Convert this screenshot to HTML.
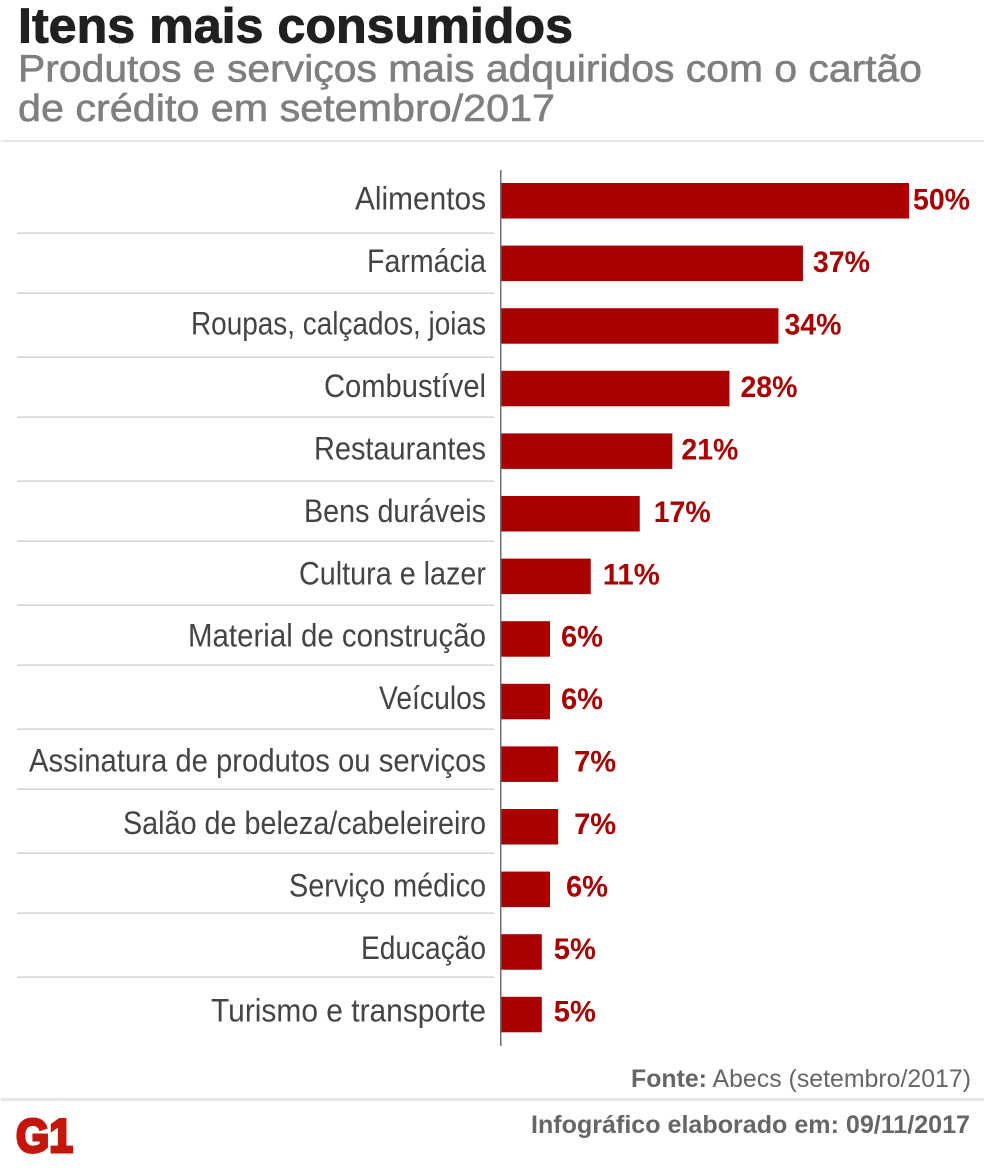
<!DOCTYPE html>
<html lang="pt-BR">
<head>
<meta charset="utf-8">
<title>Itens mais consumidos</title>
<style>
  html, body { margin: 0; padding: 0; background: #fff; }
  body { width: 984px; height: 1173px; overflow: hidden; }
  svg { display: block; font-family: "Liberation Sans", sans-serif; }
</style>
</head>
<body>
<svg id="chart" xmlns="http://www.w3.org/2000/svg" width="984" height="1173" viewBox="0 0 984 1173">
  <rect x="0" y="0" width="984" height="1173" fill="#ffffff"/>
  <text x="18" y="42.5" font-size="49" font-weight="700" fill="#202020" stroke="#202020" stroke-width="0.9" textLength="555" lengthAdjust="spacingAndGlyphs">Itens mais consumidos</text>
  <text x="18" y="81.5" font-size="38" fill="#7f7f7f" stroke="#7f7f7f" stroke-width="0.6" textLength="904" lengthAdjust="spacingAndGlyphs">Produtos e serviços mais adquiridos com o cartão</text>
  <text x="18" y="121" font-size="38" fill="#7f7f7f" stroke="#7f7f7f" stroke-width="0.6" textLength="537" lengthAdjust="spacingAndGlyphs">de crédito em setembro/2017</text>
  <rect x="1" y="140" width="983" height="2" fill="#e6e6e6"/>
  <g id="rows"></g>
  <rect x="500" y="170" width="1.5" height="876" fill="#707070"/>
  <text x="631" y="1087" font-size="25" fill="#666666" textLength="340" lengthAdjust="spacingAndGlyphs"><tspan font-weight="700">Fonte:</tspan> Abecs (setembro/2017)</text>
  <rect x="1" y="1098" width="983" height="3" fill="#e6e6e6"/>
  <text x="16" y="1152" font-size="47" font-weight="700" fill="#c4170c" stroke="#c4170c" stroke-width="3" textLength="57" lengthAdjust="spacingAndGlyphs">G1</text>
  <text x="531" y="1133" font-size="25" font-weight="700" fill="#666666" textLength="439" lengthAdjust="spacingAndGlyphs">Infográfico elaborado em: 09/11/2017</text>
</svg>
<script>
const categories = ["Alimentos", "Farmácia", "Roupas, calçados, joias", "Combustível", "Restaurantes", "Bens duráveis", "Cultura e lazer", "Material de construção", "Veículos", "Assinatura de produtos ou serviços", "Salão de beleza/cabeleireiro", "Serviço médico", "Educação", "Turismo e transporte"];
const percentValues = [50, 37, 34, 28, 21, 17, 11, 6, 6, 7, 7, 6, 5, 5];

const SVG_NS = "http://www.w3.org/2000/svg";
const LAYOUT = {
  axisX: 501, pxPerUnit: 8.16,
  firstBarTop: 183, rowStep: 62.6, barHeight: 35.5,
  firstBaseline: 209.5, textStep: 62.46,
  labelRight: 486, ruleLeft: 17, ruleRight: 494, firstRuleY: 233, ruleStep: 62
};
// Measured rendering details of the original artwork, separate from the data.
const labelInkWidths = [131, 119, 295, 162, 172, 182, 187, 298, 107, 457, 363, 197, 125, 275];
const valueLabelGaps = [4, 10, 6, 11, 9, 14, 12, 11, 11, 16, 16, 16, 12, 12];

function xScale(value) { return LAYOUT.axisX + value * LAYOUT.pxPerUnit; }
function bandTop(index) { return LAYOUT.firstBarTop + index * LAYOUT.rowStep; }
function textBaseline(index) { return LAYOUT.firstBaseline + index * LAYOUT.textStep; }
function ruleY(index) { return LAYOUT.firstRuleY + index * LAYOUT.ruleStep - (index % 2 ? 2 : 0); }

const rows = document.getElementById("rows");
categories.forEach(function (category, i) {
  const label = document.createElementNS(SVG_NS, "text");
  
  
  label.setAttribute("x", LAYOUT.labelRight);
  label.setAttribute("y", textBaseline(i));
  label.setAttribute("text-anchor", "end");
  label.setAttribute("font-size", "32");
  label.setAttribute("fill", "#444444");
  label.setAttribute("textLength", labelInkWidths[i]);
  label.setAttribute("lengthAdjust", "spacingAndGlyphs");
  label.textContent = category;
  rows.appendChild(label);

  const bar = document.createElementNS(SVG_NS, "rect");
  
  
  bar.setAttribute("x", LAYOUT.axisX);
  bar.setAttribute("y", bandTop(i));
  bar.setAttribute("width", xScale(percentValues[i]) - LAYOUT.axisX);
  bar.setAttribute("height", LAYOUT.barHeight);
  bar.setAttribute("fill", "#a80000");
  rows.appendChild(bar);

  const valueText = percentValues[i] + "%";
  const valueLabel = document.createElementNS(SVG_NS, "text");
  
  
  valueLabel.setAttribute("x", xScale(percentValues[i]) + valueLabelGaps[i]);
  valueLabel.setAttribute("y", textBaseline(i));
  valueLabel.setAttribute("font-size", "30");
  valueLabel.setAttribute("font-weight", "700");
  valueLabel.setAttribute("fill", "#a80000");
  valueLabel.setAttribute("textLength", 15 * (valueText.length - 1) + 27);
  valueLabel.setAttribute("lengthAdjust", "spacingAndGlyphs");
  valueLabel.textContent = valueText;
  rows.appendChild(valueLabel);

  if (i < categories.length - 1) {
    const rule = document.createElementNS(SVG_NS, "rect");
    
    
    rule.setAttribute("x", LAYOUT.ruleLeft);
    rule.setAttribute("y", ruleY(i) - 0.5);
    rule.setAttribute("width", LAYOUT.ruleRight - LAYOUT.ruleLeft);
    rule.setAttribute("height", "1.2");
    rule.setAttribute("fill", "#c8c8c8");
    rows.appendChild(rule);
  }
});
</script>
</body>
</html>
